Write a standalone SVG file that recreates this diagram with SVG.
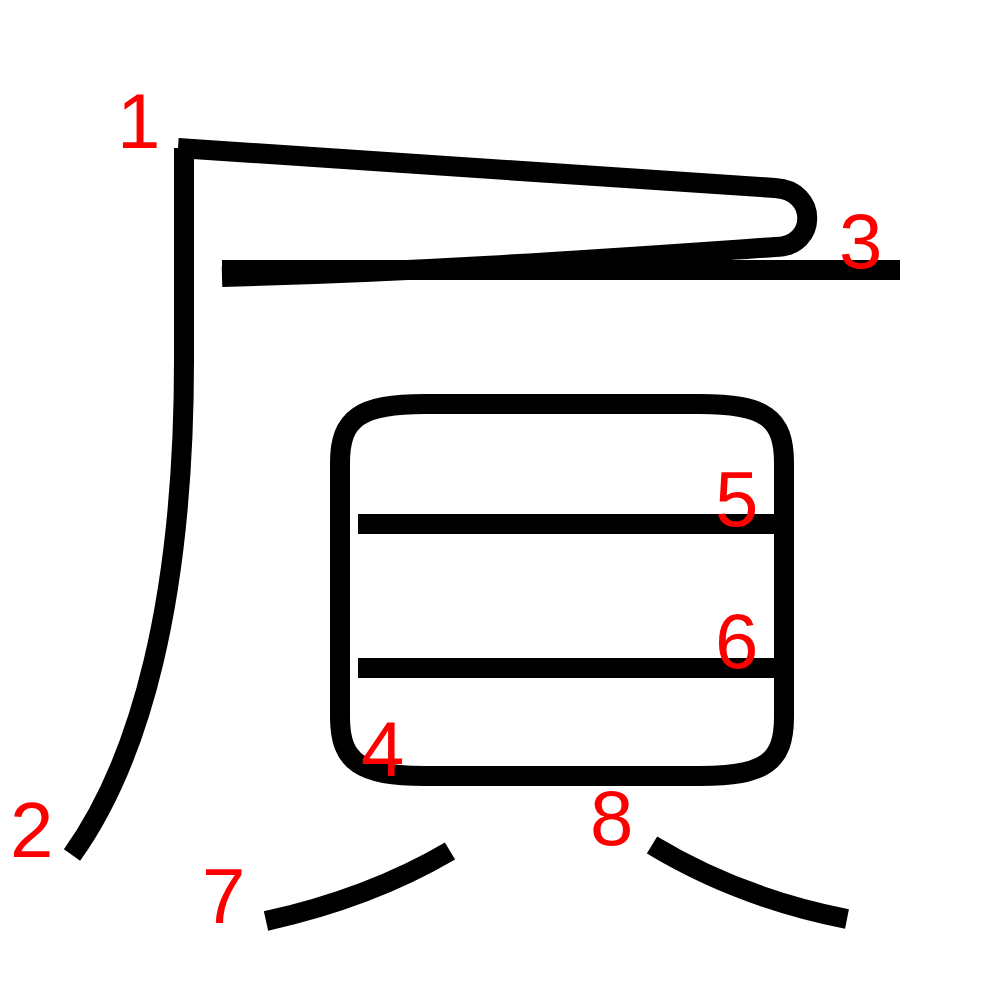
<svg xmlns="http://www.w3.org/2000/svg" width="1000" height="1000" viewBox="0 0 1000 1000">
<style>
.s{fill:none;stroke:#000;stroke-width:20;stroke-linecap:butt;stroke-linejoin:round}
.n{fill:#f00;font-family:"Liberation Sans",Arial,sans-serif;font-size:78px}
</style>
<rect width="1000" height="1000" fill="#fff"/>
<g id="strokes">
<path id="s1" class="s" d="M178,148 L775,188 C818,190 818,247 775,247 C600,259 440,271 222,277"/>
<path id="s2" class="s" d="M184,148 L184,360 C184,600 140,760 72,855"/>
<path id="s3" class="s" d="M222,270 L900,270"/>
<path id="s4" class="s" d="M340,463 C340,418 360,404 425,404 L700,404 C765,404 784,418 784,463 L784,717 C784,762 765,776 700,776 L425,776 C360,776 340,762 340,717 Z"/>
<path id="s5" class="s" d="M358,524 L784,524"/>
<path id="s6" class="s" d="M358,668 L784,668"/>
<path id="s7" class="s" d="M450,851 Q370,898 266,921"/>
<path id="s8" class="s" d="M652,845 Q740,898 847,919"/>
</g>
<g id="labels">
<text class="n" x="117" y="148">1</text>
<text class="n" x="10" y="857">2</text>
<text class="n" x="839" y="268">3</text>
<text class="n" x="361" y="776">4</text>
<text class="n" x="715" y="526">5</text>
<text class="n" x="715" y="668">6</text>
<text class="n" x="202" y="923">7</text>
<text class="n" x="590" y="845">8</text>
</g>
</svg>
